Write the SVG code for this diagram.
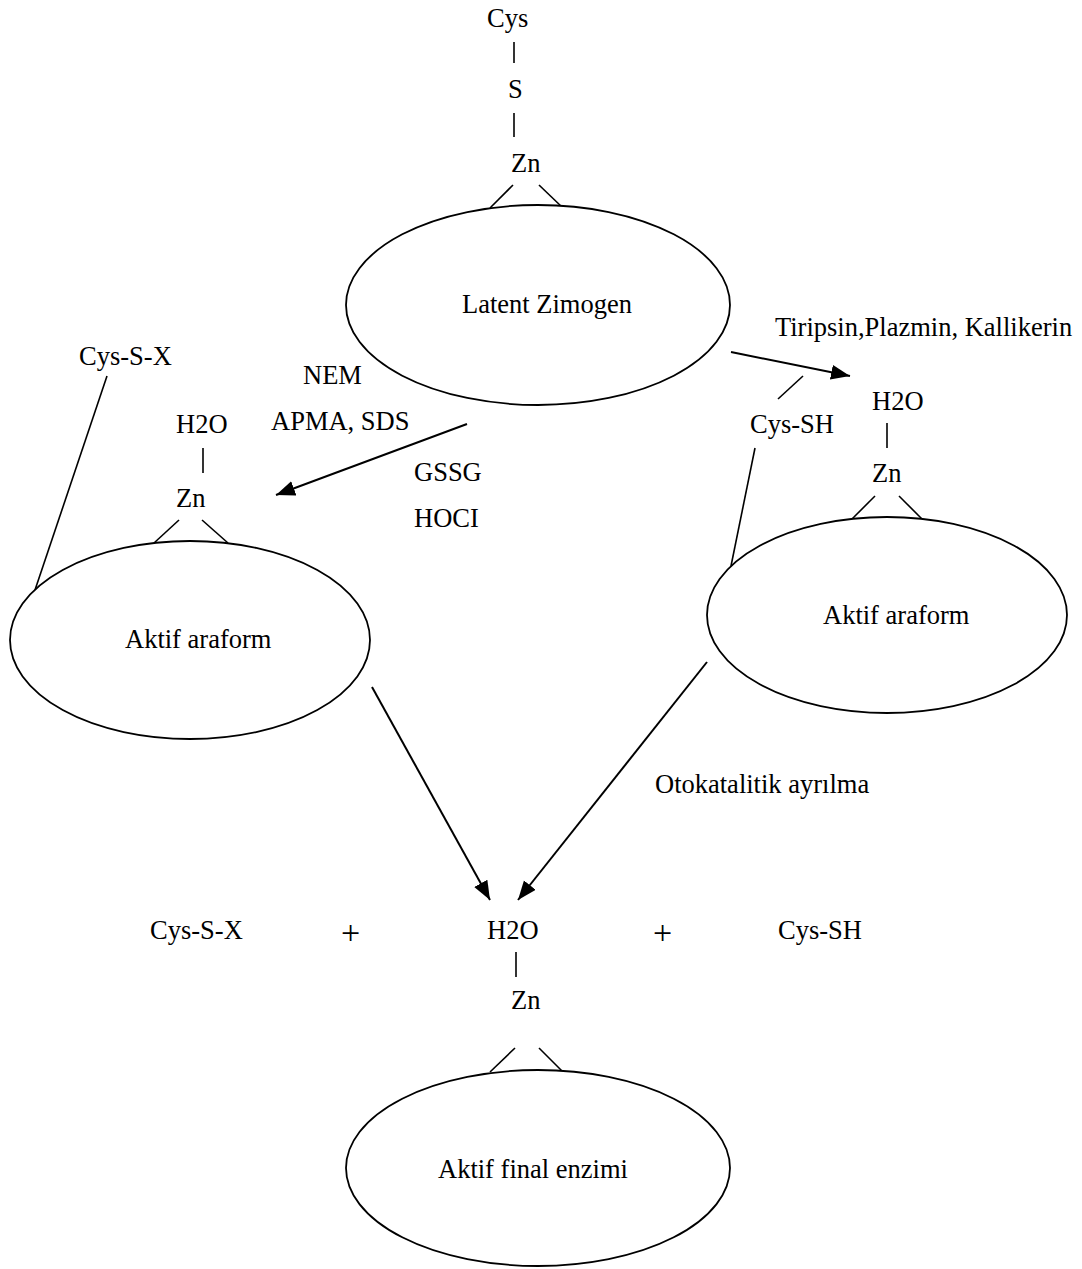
<svg xmlns="http://www.w3.org/2000/svg" width="1082" height="1269" viewBox="0 0 1082 1269">
<style>
text{font-family:"Liberation Serif","Times New Roman",serif;font-size:26.5px;fill:#000}
.p{font-size:34px}
.l{stroke:#000;stroke-width:1.6;fill:none}
.e{stroke:#000;stroke-width:1.8;fill:#fff}
.a{stroke:#000;stroke-width:2;fill:none;marker-end:url(#ah)}
</style>
<defs>
<marker id="ah" markerUnits="userSpaceOnUse" markerWidth="20" markerHeight="16" refX="19" refY="7.5" orient="auto">
<path d="M0,0 L19,7.5 L0,15 z" fill="#000"/>
</marker>
</defs>
<rect width="1082" height="1269" fill="#fff"/>
<g id="latent">
<text x="487" y="27">Cys</text>
<line class="l" x1="514" y1="42" x2="514" y2="63"/>
<text x="508" y="98">S</text>
<line class="l" x1="514" y1="113" x2="514" y2="137"/>
<text x="511" y="172">Zn</text>
<line class="l" x1="513" y1="185" x2="490" y2="208"/>
<line class="l" x1="539" y1="185" x2="563" y2="208"/>
<ellipse class="e" cx="538" cy="305" rx="192" ry="100"/>
<text x="462" y="313">Latent Zimogen</text>
</g>
<g id="left-aktif">
<text x="79" y="365">Cys-S-X</text>
<line class="l" x1="107" y1="376" x2="35" y2="590"/>
<text x="176" y="433">H2O</text>
<line class="l" x1="203" y1="448" x2="203" y2="473"/>
<text x="176" y="507">Zn</text>
<line class="l" x1="179" y1="520" x2="154" y2="543"/>
<line class="l" x1="202" y1="520" x2="228" y2="543"/>
<ellipse class="e" cx="190" cy="640" rx="180" ry="99"/>
<text x="125" y="648">Aktif araform</text>
</g>
<g id="left-labels">
<text x="303" y="384">NEM</text>
<text x="271" y="430">APMA, SDS</text>
<text x="414" y="481">GSSG</text>
<text x="414" y="527">HOCI</text>
</g>
<g id="right-aktif">
<text x="750" y="433">Cys-SH</text>
<line class="l" x1="803" y1="376" x2="778" y2="399"/>
<line class="l" x1="755" y1="448" x2="731" y2="566"/>
<text x="872" y="410">H2O</text>
<line class="l" x1="887" y1="423" x2="887" y2="448"/>
<text x="872" y="482">Zn</text>
<line class="l" x1="875" y1="496" x2="851" y2="520"/>
<line class="l" x1="899" y1="496" x2="923" y2="520"/>
<ellipse class="e" cx="887" cy="615" rx="180" ry="98"/>
<text x="823" y="624">Aktif araform</text>
</g>
<g id="right-labels">
<text x="775" y="336">Tiripsin,Plazmin, Kallikerin</text>
<text x="655" y="793">Otokatalitik ayrılma</text>
</g>
<g id="final">
<text x="150" y="939">Cys-S-X</text>
<text class="p" x="341" y="944">+</text>
<text x="487" y="939">H2O</text>
<text class="p" x="653" y="944">+</text>
<text x="778" y="939">Cys-SH</text>
<line class="l" x1="516" y1="952" x2="516" y2="977"/>
<text x="511" y="1009">Zn</text>
<line class="l" x1="515" y1="1048" x2="490" y2="1072"/>
<line class="l" x1="539" y1="1048" x2="563" y2="1072"/>
<ellipse class="e" cx="538" cy="1168" rx="192" ry="98"/>
<text x="438" y="1178">Aktif final enzimi</text>
</g>
<g id="connectors">
<line class="a" x1="467" y1="424" x2="276" y2="495"/>
<line class="a" x1="731" y1="352" x2="850" y2="376"/>
<line class="a" x1="372" y1="687" x2="490" y2="900"/>
<line class="a" x1="707" y1="662" x2="518" y2="900"/>
</g>
</svg>
